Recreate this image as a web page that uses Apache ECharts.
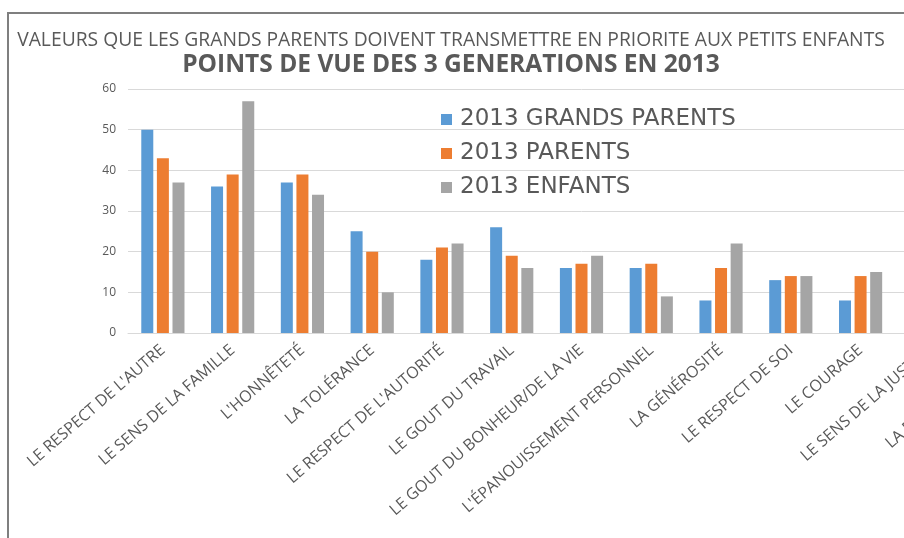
<!DOCTYPE html>
<html>
<head>
<meta charset="utf-8">
<script src="https://cdn.jsdelivr.net/npm/echarts@6/dist/echarts.min.js"></script>
<style>
  html, body { margin: 0; padding: 0; background: #fff; overflow: hidden; }
  #wrap { width: 904px; height: 538px; overflow: hidden; }
  /* le graphique d'origine deborde a droite : le canvas est plus large que la fenetre */
  #chart { width: 1040px; height: 538px; }
</style>
</head>
<body>
<div id="wrap"><div id="chart"></div></div>
<script>
// valeurs (les deux dernieres categories sont coupees)
var categories = [
  "LE RESPECT DE L'AUTRE",
  "LE SENS DE LA FAMILLE",
  "L'HONNÊTETÉ",
  "LA TOLÉRANCE",
  "LE RESPECT DE L'AUTORITÉ",
  "LE GOUT DU TRAVAIL",
  "LE GOUT DU BONHEUR/DE LA VIE",
  "L'ÉPANOUISSEMENT PERSONNEL",
  "LA GÉNÉROSITÉ",
  "LE RESPECT DE SOI",
  "LE COURAGE",
  "LE SENS DE LA JUSTICE",
  "LA RESPONSABILITÉ"
];
var grandsParents = [50, 36, 37, 25, 18, 26, 16, 16, 8, 13, 8, null, null];
var parents       = [43, 39, 39, 20, 21, 19, 17, 17, 16, 14, 14, null, null];
var enfants       = [37, 57, 34, 10, 22, 16, 19, 9, 22, 14, 15, null, null];
var seriesNames = ['2013 GRANDS PARENTS', '2013 PARENTS', '2013 ENFANTS'];

var myChart = echarts.init(document.getElementById('chart'));

var txt = '#595959';
var font = '"Open Sans", sans-serif';

var option = {
  animation: false,
  color: ['#5b9bd5', '#ed7d31', '#a5a5a5'],
  graphic: [{
    type: 'rect',
    shape: { x: 8, y: 13, width: 1100, height: 600 },
    style: { fill: 'none', stroke: '#7f7f7f', lineWidth: 2 },
    silent: true
  }],
  title: [
    {
      text: 'VALEURS QUE LES GRANDS PARENTS DOIVENT TRANSMETTRE EN PRIORITE AUX PETITS ENFANTS',
      left: 451,
      textAlign: 'center',
      top: 31,
      padding: 0,
      textStyle: { color: txt, fontFamily: font, fontSize: 19.3, fontWeight: 'normal' }
    },
    {
      text: 'POINTS DE VUE DES 3 GENERATIONS EN 2013',
      left: 451,
      textAlign: 'center',
      top: 53,
      padding: 0,
      textStyle: { color: txt, fontFamily: font, fontSize: 24.5, fontWeight: 'bold' }
    }
  ],
  legend: {
    orient: 'vertical',
    left: 441,
    top: 108,
    padding: 0,
    itemWidth: 11,
    itemHeight: 11,
    itemGap: 11,
    icon: 'rect',
    textStyle: { color: txt, fontFamily: '"DejaVu Sans", sans-serif', fontSize: 23, padding: [0, 0, 0, 3] },
    data: seriesNames
  },
  grid: {
    left: 128,
    right: 5,
    top: 89,
    bottom: 205
  },
  xAxis: {
    type: 'category',
    data: categories,
    axisTick: { show: false },
    axisLine: { lineStyle: { color: '#d9d9d9', width: 1 } },
    axisLabel: {
      interval: 0,
      rotate: 41,
      margin: 15,
      color: txt,
      fontFamily: font,
      fontSize: 16
    }
  },
  yAxis: {
    type: 'value',
    min: 0,
    max: 60,
    interval: 10,
    axisLine: { show: false },
    axisTick: { show: false },
    splitLine: { lineStyle: { color: '#d9d9d9', width: 1 } },
    axisLabel: { color: txt, fontFamily: font, fontSize: 12, margin: 12 }
  },
  series: [
    { name: seriesNames[0], type: 'bar', barWidth: 12, barGap: '30%', data: grandsParents },
    { name: seriesNames[1], type: 'bar', barWidth: 12, barGap: '30%', data: parents },
    { name: seriesNames[2], type: 'bar', barWidth: 12, barGap: '30%', data: enfants }
  ]
};

myChart.setOption(option);
</script>
</body>
</html>
